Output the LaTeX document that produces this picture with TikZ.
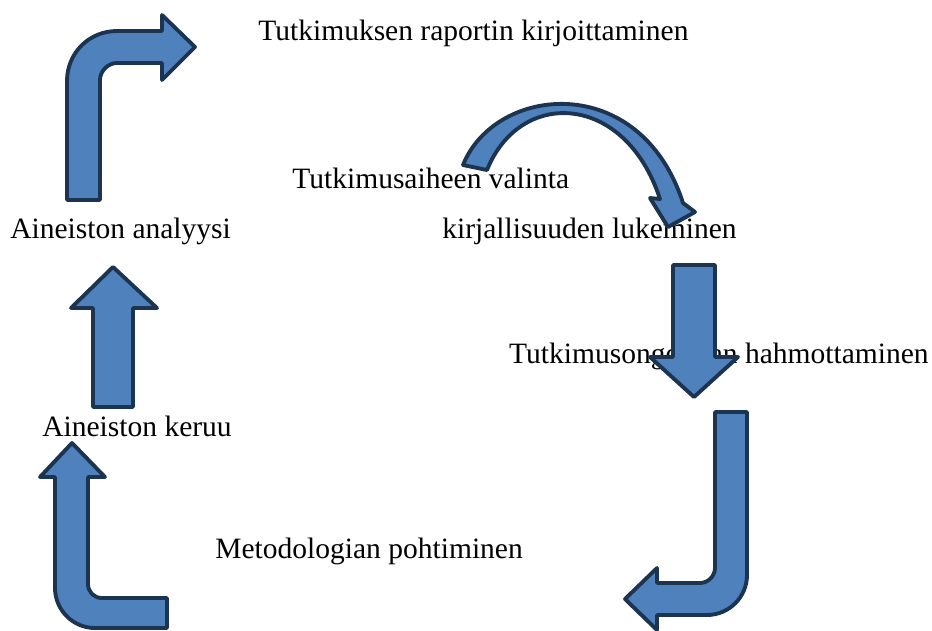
\documentclass[tikz,border=0pt]{standalone}
\usepackage{fontspec}
\setmainfont{Liberation Serif}
\usepackage{tikz}
\definecolor{arrowfill}{HTML}{4F81BD}
\definecolor{arrowline}{HTML}{1C3450}
\begin{document}
\begin{tikzpicture}[
    x=0.02cm, y=-0.02cm,
    blockarrow/.style={fill=arrowfill, draw=arrowline, line width=2.2pt, line join=round},
    lbl/.style={anchor=base west, inner sep=0pt, font=\fontsize{16.8}{19}\selectfont},
  ]
  \useasboundingbox (0,0) rectangle (932,630);
  % les etapes
  \node[lbl] (raportti) at (258,40)  {Tutkimuksen raportin kirjoittaminen};
  \node[lbl] (aihe)     at (292,188) {Tutkimusaiheen valinta};
  \node[lbl] (analyysi) at (10,238)  {Aineiston analyysi};
  \node[lbl] (kirjall)  at (442,238) {kirjallisuuden lukeminen};
  \node[lbl, anchor=base east] (ongelma) at (929,363) {Tutkimusongelman hahmottaminen};
  \node[lbl] (keruu)    at (42,436)  {Aineiston keruu};
  \node[lbl] (metodi)   at (215,558) {Metodologian pohtiminen};
  % aihe -> kirjallisuus (kaari)
  \draw[blockarrow] (463,165) .. controls (495,85) and (640,70) .. (683,203)
    -- (695,212) -- (668,227) -- (650,198) -- (660,199)
    .. controls (625,92) and (520,88) .. (487,170) -- cycle;
  % kirjallisuus -> ongelma
  \draw[blockarrow] (673,265) -- (715,265) -- (715,357) -- (738,357)
    -- (694,397) -- (650,357) -- (673,357) -- cycle;
  % ongelma -> metodologia
  \draw[blockarrow] (715,412) -- (747,412) -- (747,575)
    .. controls (747,597) and (729,615) .. (707,615) -- (657,615) -- (657,630)
    -- (625,599) -- (657,568) -- (657,583) -- (700,583)
    .. controls (708,583) and (715,576) .. (715,568) -- cycle;
  % metodologia -> keruu
  \draw[blockarrow] (167,628) -- (95,628) .. controls (73,628) and (55,610) .. (55,588)
    -- (55,477) -- (40,477) -- (72,443) -- (105,477) -- (88,477) -- (88,584)
    .. controls (88,592) and (94,598) .. (102,598) -- (167,598) -- cycle;
  % keruu -> analyysi
  \draw[blockarrow] (93,407) -- (93,308) -- (71,308) -- (113,267) -- (157,308)
    -- (133,308) -- (133,407) -- cycle;
  % analyysi -> raportti
  \draw[blockarrow] (67,200) -- (67,81) .. controls (67,53) and (89,31) .. (117,31)
    -- (162,31) -- (162,15) -- (195,47) -- (162,80) -- (162,63) -- (117,63)
    .. controls (108,63) and (100,71) .. (100,80) -- (100,200) -- cycle;
\end{tikzpicture}
\end{document}
